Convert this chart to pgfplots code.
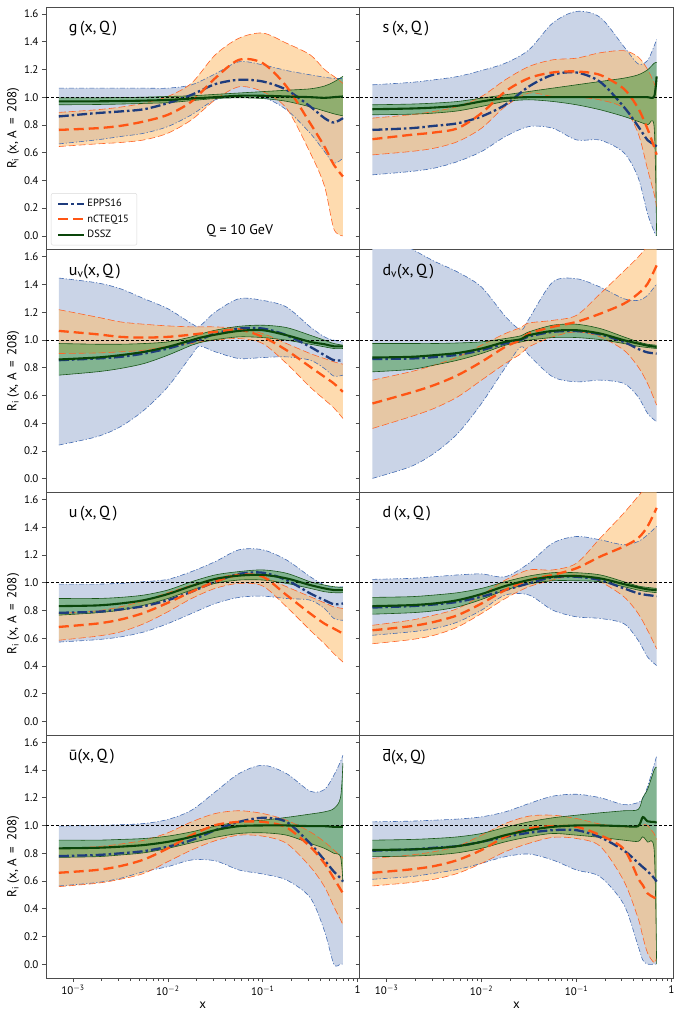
\documentclass[border=0pt]{standalone}
\usepackage{fontspec}
\setmainfont{PT Sans}
\usepackage{pgfplots}
\usepackage{pgfplotstable}
\pgfplotsset{compat=1.18}
\usepgfplotslibrary{groupplots,fillbetween}

\definecolor{bfill}{RGB}{202,212,231}
\definecolor{bedge}{RGB}{70,110,180}
\definecolor{bline}{RGB}{30,60,125}
\definecolor{ofill}{RGB}{253,190,110}
\definecolor{oedge}{RGB}{255,100,40}
\definecolor{oline}{RGB}{255,85,20}
\definecolor{gfill}{RGB}{60,150,60}
\definecolor{gedge}{RGB}{25,85,25}
\definecolor{gline}{RGB}{10,70,10}

% columns: x, EPPS16 (upper, central, lower), nCTEQ15 (upper, central, lower), DSSZ (upper, central, lower)
\pgfplotstableread{
x        bu    bc    bl    ou    oc    ol    gu    gc    gl
7.1e-4   1.065 0.861 0.663 0.890 0.764 0.644 0.995 0.970 0.945
1.78e-3  1.065 0.885 0.692 0.909 0.776 0.663 0.995 0.970 0.947
3.16e-3  1.065 0.897 0.716 0.928 0.793 0.673 0.997 0.972 0.950
5.62e-3  1.065 0.913 0.740 0.957 0.825 0.692 1.000 0.975 0.955
0.01     1.065 0.957 0.788 1.005 0.873 0.740 1.005 0.980 0.960
0.0178   1.089 1.017 0.873 1.101 0.969 0.837 1.010 0.990 0.975
0.0316   1.168 1.094 0.981 1.305 1.137 0.981 1.020 1.000 0.990
0.0562   1.255 1.125 1.005 1.425 1.269 1.075 1.030 1.010 0.995
0.1      1.233 1.113 1.000 1.462 1.245 1.040 1.040 1.010 0.990
0.178    1.192 1.053 0.909 1.389 1.077 0.920 1.050 1.005 0.970
0.316    1.161 0.933 0.740 1.305 0.812 0.600 1.060 1.000 0.930
0.447    1.144 0.849 0.608 1.200 0.644 0.360 1.080 0.995 0.900
0.562    1.135 0.817 0.524 1.150 0.512 0.050 1.110 1.000 0.880
0.7      1.135 0.849 0.560 1.100 0.428 0.000 1.150 1.005 0.865
}\tabg

\pgfplotstableread{
x        bu    bc    bl    ou    oc    ol    gu    gc    gl
7.1e-4   1.089 0.764 0.440 0.849 0.697 0.584 0.945 0.913 0.873
1.78e-3  1.106 0.776 0.464 0.873 0.728 0.608 0.950 0.918 0.877
3.16e-3  1.125 0.793 0.488 0.897 0.745 0.632 0.957 0.925 0.885
5.62e-3  1.149 0.812 0.536 0.933 0.776 0.680 0.969 0.938 0.901
0.01     1.192 0.861 0.608 1.005 0.885 0.776 0.993 0.969 0.933
0.0178   1.245 0.945 0.716 1.125 1.041 0.933 1.017 0.993 0.969
0.0316   1.341 1.077 0.788 1.221 1.137 1.029 1.041 1.000 0.981
0.0562   1.534 1.161 0.776 1.269 1.178 1.005 1.065 1.000 0.969
0.1      1.618 1.178 0.692 1.281 1.185 1.000 1.089 1.000 0.945
0.178    1.575 1.110 0.690 1.320 1.160 0.980 1.113 1.000 0.909
0.316    1.365 0.930 0.600 1.335 1.060 0.920 1.137 1.000 0.861
0.447    1.240 0.790 0.420 1.290 0.920 0.740 1.161 1.000 0.825
0.562    1.265 0.690 0.160 1.200 0.770 0.480 1.197 1.000 0.800
0.66     1.370 0.660 0.030 1.100 0.640 0.300 1.245 1.005 0.780
0.7      1.415 0.644 0.000 1.050 0.585 0.210 1.250 1.150 0.000
}\tabs

\pgfplotstableread{
x        bu    bc    bl    ou    oc    ol    gu    gc    gl
7.1e-4   1.446 0.854 0.242 1.218 1.065 0.902 0.974 0.859 0.746
1.78e-3  1.412 0.866 0.302 1.165 1.041 0.906 0.969 0.873 0.770
3.16e-3  1.369 0.878 0.374 1.130 1.022 0.914 0.969 0.890 0.794
5.62e-3  1.297 0.902 0.494 1.113 1.017 0.926 0.974 0.914 0.830
0.01     1.225 0.938 0.662 1.101 1.022 0.954 0.986 0.950 0.890
0.0178   1.118 0.986 0.890 1.094 1.038 0.974 1.022 0.998 0.962
0.0216   1.100 1.000 0.955 1.094 1.045 0.985 1.040 1.015 0.980
0.0316   1.201 1.046 0.914 1.094 1.058 0.998 1.070 1.038 1.002
0.0562   1.297 1.082 0.866 1.082 1.074 1.010 1.098 1.065 1.022
0.1      1.285 1.082 0.873 1.046 1.022 0.974 1.106 1.070 1.017
0.178    1.237 1.034 0.878 0.974 0.926 0.830 1.089 1.034 0.998
0.316    1.094 0.950 0.854 0.902 0.806 0.660 1.034 0.986 0.969
0.447    1.022 0.890 0.794 0.866 0.734 0.570 0.998 0.969 0.950
0.562    0.998 0.854 0.739 0.842 0.686 0.510 0.974 0.954 0.938
0.7      0.986 0.854 0.746 0.825 0.626 0.434 0.962 0.954 0.938
}\tabuv

\pgfplotstableread{
x        bu    bc    bl    ou    oc    ol    gu    gc    gl
7.1e-4   1.800 0.862 0.002 0.710 0.542 0.362 0.974 0.873 0.770
1.78e-3  1.660 0.866 0.086 0.770 0.619 0.446 0.974 0.878 0.787
3.16e-3  1.568 0.876 0.182 0.818 0.674 0.506 0.974 0.890 0.818
5.62e-3  1.489 0.893 0.326 0.878 0.746 0.590 0.978 0.906 0.854
0.01     1.381 0.926 0.542 0.962 0.842 0.710 0.986 0.938 0.902
0.0178   1.170 0.975 0.800 1.046 0.950 0.830 1.010 0.986 0.962
0.026    1.074 1.000 0.950 1.090 1.000 0.900 1.030 1.005 0.985
0.0316   1.151 1.025 0.890 1.122 1.046 0.950 1.058 1.034 0.998
0.0562   1.417 1.058 0.734 1.141 1.094 1.022 1.106 1.065 1.017
0.1      1.441 1.064 0.698 1.177 1.130 1.058 1.113 1.070 1.017
0.178    1.381 1.040 0.710 1.333 1.189 1.022 1.082 1.046 1.002
0.316    1.297 0.985 0.686 1.496 1.261 0.926 1.022 0.998 0.974
0.447    1.285 0.935 0.590 1.597 1.333 0.806 0.986 0.974 0.954
0.562    1.321 0.910 0.470 1.680 1.405 0.686 0.969 0.959 0.945
0.7      1.405 0.902 0.410 1.800 1.537 0.530 0.962 0.950 0.938
}\tabdv

\pgfplotstableread{
x        bu    bc    bl    ou    oc    ol    gu    gc    gl
7.1e-4   0.990 0.783 0.572 0.778 0.681 0.585 0.886 0.831 0.766
1.78e-3  0.990 0.790 0.589 0.797 0.705 0.614 0.886 0.836 0.783
3.16e-3  0.995 0.807 0.609 0.826 0.734 0.645 0.894 0.850 0.802
5.62e-3  1.007 0.831 0.645 0.870 0.783 0.705 0.911 0.874 0.838
0.01     1.024 0.874 0.705 0.928 0.855 0.790 0.947 0.918 0.886
0.0178   1.080 0.935 0.778 0.983 0.935 0.886 1.007 0.976 0.947
0.0316   1.152 1.007 0.850 1.031 1.007 0.959 1.056 1.027 0.995
0.0562   1.237 1.063 0.894 1.063 1.056 0.995 1.080 1.051 1.019
0.1      1.237 1.072 0.903 1.043 1.043 0.976 1.092 1.056 1.019
0.178    1.164 1.019 0.886 0.971 0.911 0.826 1.068 1.031 0.995
0.316    1.043 0.923 0.874 0.899 0.778 0.657 1.007 0.983 0.959
0.447    0.983 0.874 0.814 0.855 0.705 0.560 0.983 0.959 0.935
0.562    0.966 0.845 0.742 0.826 0.669 0.488 0.971 0.947 0.928
0.7      0.971 0.850 0.729 0.814 0.633 0.428 0.966 0.947 0.928
}\tabu

\pgfplotstableread{
x        bu    bc    bl    ou    oc    ol    gu    gc    gl
7.1e-4   1.024 0.821 0.621 0.693 0.657 0.560 0.894 0.831 0.773
1.78e-3  1.031 0.831 0.645 0.729 0.686 0.589 0.899 0.838 0.783
3.16e-3  1.043 0.843 0.669 0.766 0.717 0.621 0.911 0.850 0.797
5.62e-3  1.056 0.862 0.717 0.814 0.766 0.681 0.928 0.874 0.826
0.01     1.063 0.899 0.802 0.911 0.850 0.778 0.959 0.918 0.879
0.0178   1.043 0.947 0.911 1.019 0.947 0.886 1.007 0.976 0.947
0.0316   1.140 0.995 0.911 1.092 1.019 0.971 1.048 1.019 0.990
0.0562   1.285 1.039 0.802 1.092 1.056 1.019 1.072 1.043 1.014
0.1      1.333 1.043 0.754 1.140 1.104 1.056 1.072 1.048 1.014
0.178    1.309 1.019 0.742 1.321 1.188 1.007 1.056 1.031 1.007
0.316    1.273 0.959 0.705 1.502 1.261 0.899 1.007 0.990 0.971
0.447    1.297 0.923 0.585 1.623 1.321 0.778 0.976 0.966 0.947
0.562    1.345 0.911 0.464 1.700 1.406 0.657 0.966 0.952 0.935
0.7      1.406 0.903 0.403 1.800 1.539 0.524 0.959 0.947 0.928
}\tabd

\pgfplotstableread{
x        bu    bc    bl    ou    oc    ol    gu    gc    gl
7.1e-4   0.995 0.779 0.564 0.835 0.659 0.559 0.894 0.835 0.770
1.78e-3  1.000 0.787 0.588 0.847 0.679 0.583 0.894 0.839 0.775
3.16e-3  1.005 0.799 0.619 0.866 0.707 0.612 0.899 0.847 0.787
5.62e-3  1.014 0.815 0.667 0.894 0.755 0.655 0.906 0.859 0.803
0.01     1.043 0.847 0.703 0.947 0.835 0.739 0.923 0.882 0.835
0.0178   1.110 0.894 0.751 1.026 0.930 0.823 0.954 0.918 0.875
0.0316   1.242 0.966 0.745 1.086 1.002 0.890 0.995 0.966 0.914
0.0562   1.374 1.026 0.679 1.106 1.026 0.930 1.026 0.995 0.942
0.1      1.434 1.055 0.650 1.086 1.026 0.923 1.038 1.000 0.947
0.178    1.374 1.026 0.607 1.038 0.986 0.871 1.058 1.000 0.930
0.316    1.247 0.870 0.480 0.954 0.847 0.703 1.082 0.995 0.871
0.447    1.259 0.750 0.240 0.882 0.727 0.559 1.098 0.995 0.835
0.562    1.362 0.667 0.000 0.823 0.619 0.415 1.122 0.990 0.799
0.66     1.460 0.620 0.000 0.780 0.540 0.320 1.200 0.990 0.775
0.7      1.506 0.595 0.000 0.763 0.511 0.283 1.450 0.990 0.590
}\tabub

\pgfplotstableread{
x        bu    bc    bl    ou    oc    ol    gu    gc    gl
7.1e-4   1.026 0.818 0.612 0.763 0.659 0.564 0.894 0.823 0.775
1.78e-3  1.031 0.827 0.631 0.787 0.683 0.588 0.899 0.827 0.779
3.16e-3  1.038 0.839 0.655 0.811 0.707 0.612 0.906 0.835 0.787
5.62e-3  1.046 0.851 0.683 0.851 0.751 0.655 0.918 0.851 0.803
0.01     1.062 0.882 0.727 0.930 0.823 0.727 0.942 0.882 0.835
0.0178   1.098 0.918 0.775 1.014 0.918 0.811 0.986 0.930 0.882
0.0316   1.158 0.947 0.794 1.067 0.978 0.871 1.026 0.966 0.918
0.0562   1.211 0.966 0.751 1.074 0.995 0.914 1.055 0.990 0.942
0.1      1.225 0.966 0.679 1.050 0.990 0.906 1.074 1.000 0.930
0.178    1.200 0.915 0.630 1.010 0.930 0.850 1.091 1.000 0.914
0.316    1.150 0.820 0.430 0.990 0.830 0.600 1.106 0.995 0.894
0.447    1.165 0.730 0.130 1.000 0.620 0.330 1.115 0.995 0.885
0.5      1.194 0.700 0.030 1.005 0.570 0.200 1.200 1.060 0.918
0.562    1.280 0.670 0.000 1.000 0.510 0.080 1.260 1.030 0.880
0.66     1.440 0.620 0.000 0.940 0.480 0.010 1.400 1.025 0.820
0.7      1.500 0.595 0.000 0.900 0.470 0.050 1.420 1.020 0.000
}\tabdb

\pgfplotsset{
  bedgest/.style={bedge, line width=0.6pt, dash pattern=on 5pt off 2pt on 1.2pt off 2pt, smooth, forget plot},
  oedgest/.style={oedge, line width=0.6pt, dash pattern=on 7pt off 3pt, smooth, forget plot},
  gedgest/.style={gedge, line width=0.6pt, smooth, forget plot},
  blinest/.style={bline, line width=2.3pt, dash pattern=on 10pt off 3pt on 2.5pt off 3pt},
  olinest/.style={oline, line width=2.3pt, dash pattern=on 10pt off 5pt},
  glinest/.style={gline, line width=2.1pt},
}

\newcommand{\panel}[2]{%
  \addplot[draw=none, smooth, forget plot, name path=bu#2] table[x=x,y=bu]{#1};
  \addplot[draw=none, smooth, forget plot, name path=bl#2] table[x=x,y=bl]{#1};
  \addplot[draw=none, smooth, forget plot, name path=ou#2] table[x=x,y=ou]{#1};
  \addplot[draw=none, smooth, forget plot, name path=ol#2] table[x=x,y=ol]{#1};
  \addplot[draw=none, smooth, forget plot, name path=gu#2] table[x=x,y=gu]{#1};
  \addplot[draw=none, smooth, forget plot, name path=gl#2] table[x=x,y=gl]{#1};
  \addplot[fill=bfill, draw=none, forget plot] fill between[of=bu#2 and bl#2];
  \addplot[fill=ofill, fill opacity=0.55, draw=none, forget plot] fill between[of=ou#2 and ol#2];
  \addplot[fill=gfill, fill opacity=0.5, draw=none, forget plot] fill between[of=gu#2 and gl#2];
  \addplot[bedgest] table[x=x,y=bu]{#1};
  \addplot[bedgest] table[x=x,y=bl]{#1};
  \addplot[oedgest] table[x=x,y=ou]{#1};
  \addplot[oedgest] table[x=x,y=ol]{#1};
  \addplot[gedgest] table[x=x,y=gu]{#1};
  \addplot[gedgest] table[x=x,y=gl]{#1};
  \addplot[black, line width=0.7pt, dash pattern=on 3pt off 2pt, forget plot] coordinates {(5.2e-4,1) (1.05,1)};
  \addplot[blinest, smooth, forget plot] table[x=x,y=bc]{#1};
  \addplot[olinest, smooth, forget plot] table[x=x,y=oc]{#1};
  \addplot[glinest, smooth, forget plot] table[x=x,y=gc]{#1};
}

\newcommand{\plabel}[1]{\node[anchor=west, font=\fontsize{16}{18}\selectfont] at (axis description cs:0.062,0.912) {#1};}
\newcommand{\barred}[1]{\rlap{\hspace{0.04em}\raisebox{0.7em}{\rule{0.42em}{0.07em}}}#1}

\begin{document}
\begin{tikzpicture}
\begin{groupplot}[
  group style={group size=2 by 4, horizontal sep=0pt, vertical sep=0pt,
    x descriptions at=edge bottom, y descriptions at=edge left},
  width=314pt, height=243pt, scale only axis,
  xmode=log, xmin=5.2e-4, xmax=1.05,
  ymin=-0.1, ymax=1.65,
  ytick={0,0.2,0.4,0.6,0.8,1.0,1.2,1.4,1.6},
  yticklabel style={/pgf/number format/.cd, fixed, fixed zerofill, precision=1, assume math mode=true},
  xtick={1e-3,1e-2,1e-1,1},
  xticklabels={10\textsuperscript{$-$3},10\textsuperscript{$-$2},10\textsuperscript{$-$1},1},
  tick align=outside, xtick pos=bottom, ytick pos=left,
  major tick length=4pt, minor tick length=2.5pt,
  axis line style={black!70, line width=0.8pt},
  every tick/.style={black!70, line width=0.6pt},
  tick label style={font=\fontsize{11}{13}\selectfont},
  label style={font=\fontsize{13}{15}\selectfont},
  ylabel={R\textsubscript{i} (x, A \,=\, 208)},
  xlabel={x},
  ylabel style={yshift=-2pt},
  legend cell align=left,
  legend image code/.code={\draw[#1] (0pt,0pt) -- (26pt,0pt);},
]
\nextgroupplot[xmajorticks=false, xminorticks=false,
  legend style={at={(axis description cs:0.016,0.018)}, anchor=south west,
    font=\fontsize{10.5}{12}\selectfont, draw=black!15, rounded corners=2pt,
    row sep=2.5pt, inner xsep=6pt, inner ysep=4pt}]
\panel{\tabg}{a}
\addlegendimage{blinest}\addlegendentry{EPPS16}
\addlegendimage{olinest}\addlegendentry{nCTEQ15}
\addlegendimage{glinest}\addlegendentry{DSSZ}
\plabel{g\,(x,\,Q\,)}
\node[anchor=west, font=\fontsize{14}{16}\selectfont] at (axis description cs:0.5,0.08) {Q = 10 GeV};
\nextgroupplot[xmajorticks=false, xminorticks=false]
\panel{\tabs}{b}
\plabel{s\,(x,\,Q\,)}
\nextgroupplot[xmajorticks=false, xminorticks=false]
\panel{\tabuv}{c}
\plabel{u\textsubscript{v}(x,\,Q\,)}
\nextgroupplot[xmajorticks=false, xminorticks=false]
\panel{\tabdv}{d}
\plabel{d\textsubscript{v}(x,\,Q\,)}
\nextgroupplot[xmajorticks=false, xminorticks=false]
\panel{\tabu}{e}
\plabel{u\,(x,\,Q\,)}
\nextgroupplot[xmajorticks=false, xminorticks=false]
\panel{\tabd}{f}
\plabel{d\,(x,\,Q\,)}
\nextgroupplot
\panel{\tabub}{g}
\plabel{\=u(x,\,Q\,)}
\nextgroupplot
\panel{\tabdb}{h}
\plabel{\barred{d}(x,\,Q)}
\end{groupplot}
\path ([xshift=-46pt,yshift=7pt]group c1r1.north west) rectangle ([xshift=8pt,yshift=-41pt]group c2r4.south east);
\end{tikzpicture}
\end{document}
